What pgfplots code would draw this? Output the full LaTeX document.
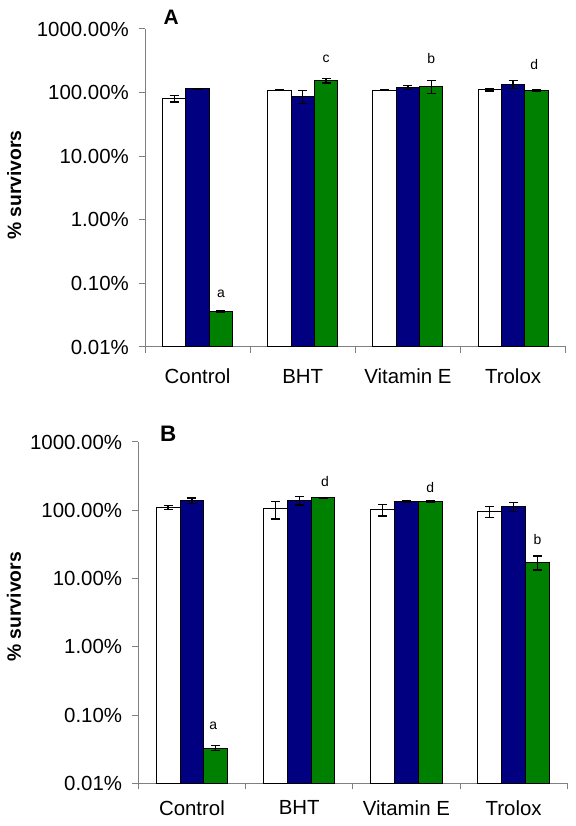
\documentclass[border=0pt]{standalone}
\usepackage{fontspec}
\setmainfont{Liberation Sans}
\usepackage{pgfplots}
\pgfplotsset{compat=1.18}
\definecolor{navyb}{RGB}{0,0,128}
\definecolor{greenb}{RGB}{0,128,0}
\definecolor{axgray}{RGB}{128,128,128}
\begin{document}
\begin{tikzpicture}
\path[use as bounding box] (0,0) rectangle (576bp,826bp);
% Panel A
\begin{axis}[
  scale only axis, clip=false,
  ymode=log, log origin y=infty,
  ymin=0.01, ymax=1000,
  xmin=-0.5, xmax=3.5,
  axis x line=bottom, axis y line=left,
  axis line style={draw=axgray, line width=1bp, -},
  ytick={0.01,0.1,1,10,100,1000},
  yticklabels={0.01\%,0.10\%,1.00\%,10.00\%,100.00\%,1000.00\%},
  yminorticks=false,
  tick align=outside,
  major tick length=6bp,
  tick style={draw=axgray, line width=1bp},
  xtick={-0.5,0.5,1.5,2.5,3.5},
  xticklabels={},
  extra x ticks={0,1,2,3},
  extra x tick labels={Control,BHT,Vitamin E,Trolox},
  extra x tick style={major tick length=0pt, tick label style={yshift=-22bp}},
  tick label style={font=\fontsize{20.5}{24}\selectfont, inner sep=0pt},
  y tick label style={xshift=-10bp},
  ylabel={\% survivors},
  at={(145bp,479bp)}, anchor=south west,
  width=420.7bp, height=318bp,
  ylabel style={font=\bfseries\fontsize{19.4}{22}\selectfont, at={(rel axis cs:-0.311,0.509)}, anchor=center},
]
\addplot[ybar, bar width=0.2222, bar shift=0, fill=white, draw=black, line width=1bp]
  coordinates {(-0.2222,80.5) (0.7778,108.7) (1.7778,108.7) (2.7778,110)};
\addplot[ybar, bar width=0.2222, bar shift=0, fill=navyb, draw=black, line width=1bp]
  coordinates {(0,114) (1,87.5) (2,121) (3,135)};
\addplot[ybar, bar width=0.2222, bar shift=0, fill=greenb, draw=black, line width=1bp]
  coordinates {(0.2222,0.0363) (1.2222,154.5) (2.2222,125.6) (3.2222,107.5)};
\addplot[draw=none, mark=none, forget plot,
  error bars/y dir=both, error bars/y explicit,
  error bars/error bar style={black, line width=1.3bp},
  error bars/error mark options={rotate=90, black, mark size=4.5bp, line width=1.3bp}]
  coordinates {(-0.2222,80.5) +- (0,9.5) (0.7778,108.7) +- (0,2) (1.7778,108.7) +- (0,1.5) (2.7778,110) +- (0,4)
               (0,114) +- (0,1.5) (1,87.5) +- (0,20) (2,121) +- (0,8) (3,135) +- (0,18)
               (0.2222,0.0363) +- (0,0.0015) (1.2222,154.5) +- (0,13) (2.2222,125.6) +- (0,30) (3.2222,107.5) +- (0,4)};
\node[font=\fontsize{14}{16}\selectfont] at (axis cs:0.2222,0.0675) {a};
\node[font=\fontsize{14}{16}\selectfont] at (axis cs:1.2222,342) {c};
\node[font=\fontsize{14}{16}\selectfont] at (axis cs:2.2222,342) {b};
\node[font=\fontsize{14}{16}\selectfont] at (axis cs:3.2,275) {d};
\node[font=\bfseries\fontsize{21}{24}\selectfont] at (rel axis cs:0.062,1.038) {A};
\end{axis}
% Panel B
\begin{axis}[
  scale only axis, clip=false,
  ymode=log, log origin y=infty,
  ymin=0.01, ymax=1000,
  xmin=-0.5, xmax=3.5,
  axis x line=bottom, axis y line=left,
  axis line style={draw=axgray, line width=1bp, -},
  ytick={0.01,0.1,1,10,100,1000},
  yticklabels={0.01\%,0.10\%,1.00\%,10.00\%,100.00\%,1000.00\%},
  yminorticks=false,
  tick align=outside,
  major tick length=6bp,
  tick style={draw=axgray, line width=1bp},
  xtick={-0.5,0.5,1.5,2.5,3.5},
  xticklabels={},
  extra x ticks={0,1,2,3},
  extra x tick labels={Control,BHT,Vitamin E,Trolox},
  extra x tick style={major tick length=0pt, tick label style={yshift=-17bp}},
  tick label style={font=\fontsize{20.5}{24}\selectfont, inner sep=0pt},
  y tick label style={xshift=-10bp},
  ylabel={\% survivors},
  at={(138.3bp,42.7bp)}, anchor=south west,
  width=429bp, height=341.3bp,
  ylabel style={font=\bfseries\fontsize{19.4}{22}\selectfont, at={(rel axis cs:-0.290,0.517)}, anchor=center},
]
\addplot[ybar, bar width=0.2222, bar shift=0, fill=white, draw=black, line width=1bp]
  coordinates {(-0.2222,109.5) (0.7778,104.8) (1.7778,102.4) (2.7778,95.7)};
\addplot[ybar, bar width=0.2222, bar shift=0, fill=navyb, draw=black, line width=1bp]
  coordinates {(0,138.7) (1,140) (2,134) (3,112)};
\addplot[ybar, bar width=0.2222, bar shift=0, fill=greenb, draw=black, line width=1bp]
  coordinates {(0.2222,0.0327) (1.2222,151.8) (2.2222,134) (3.2222,17.3)};
\addplot[draw=none, mark=none, forget plot,
  error bars/y dir=both, error bars/y explicit,
  error bars/error bar style={black, line width=1.3bp},
  error bars/error mark options={rotate=90, black, mark size=4.5bp, line width=1.3bp}]
  coordinates {(-0.2222,109.5) +- (0,8) (0.7778,104.8) +- (0,30) (1.7778,102.4) +- (0,20) (2.7778,95.7) +- (0,17)
               (0,138.7) +- (0,12) (1,140) +- (0,20) (2,134) +- (0,2) (3,112) +- (0,17)
               (0.2222,0.0327) +- (0,0.0027) (1.2222,151.8) +- (0,2) (2.2222,134) +- (0,3) (3.2222,17.3) +- (0,4)};
\node[font=\fontsize{14}{16}\selectfont] at (axis cs:0.2,0.0705) {a};
\node[font=\fontsize{14}{16}\selectfont] at (axis cs:1.24,263) {d};
\node[font=\fontsize{14}{16}\selectfont] at (axis cs:2.2222,213) {d};
\node[font=\fontsize{14}{16}\selectfont] at (axis cs:3.2222,37.2) {b};
\node[font=\bfseries\fontsize{22.5}{26}\selectfont] at (rel axis cs:0.070,1.023) {B};
\end{axis}
\end{tikzpicture}
\end{document}
